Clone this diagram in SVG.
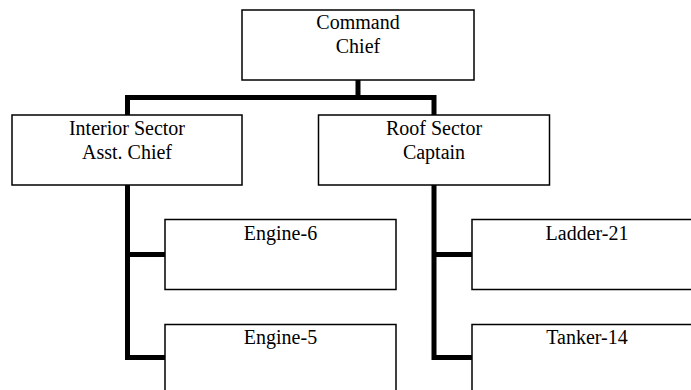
<svg xmlns="http://www.w3.org/2000/svg" width="691" height="390" viewBox="0 0 691 390">
<style>
.box{fill:#fff;stroke:#000;stroke-width:1.5}
.lbl{font-family:"Liberation Serif","Times New Roman",serif;font-size:20px;fill:#000;text-anchor:middle}
.conn{fill:none;stroke:#000;stroke-width:5;stroke-linecap:butt;stroke-linejoin:miter}
</style>
<rect width="691" height="390" fill="#fff"/>
<g id="connectors">
<path class="conn" d="M358,80 V97.5"/>
<path class="conn" d="M127.5,185 V97.5 H434 V185"/>
<path class="conn" d="M127.5,185 V357.5 H165"/>
<path class="conn" d="M127.5,254.5 H165"/>
<path class="conn" d="M434,185 V357.5 H472"/>
<path class="conn" d="M434,254.5 H472"/>
</g>
<g id="command">
<rect class="box" x="242" y="10" width="232" height="70"/>
<text class="lbl" x="358" y="29">Command</text>
<text class="lbl" x="358" y="53">Chief</text>
</g>
<g id="interior">
<rect class="box" x="12" y="115" width="230" height="70"/>
<text class="lbl" x="127" y="135">Interior Sector</text>
<text class="lbl" x="127" y="159">Asst. Chief</text>
</g>
<g id="roof">
<rect class="box" x="318.5" y="115" width="231" height="70"/>
<text class="lbl" x="434" y="135">Roof Sector</text>
<text class="lbl" x="434" y="159">Captain</text>
</g>
<g id="engine6">
<rect class="box" x="165" y="219.5" width="231" height="70"/>
<text class="lbl" x="280.5" y="240">Engine-6</text>
</g>
<g id="engine5">
<rect class="box" x="165" y="324.5" width="231" height="70"/>
<text class="lbl" x="280.5" y="344">Engine-5</text>
</g>
<g id="ladder21">
<rect class="box" x="472" y="219.5" width="231" height="70"/>
<text class="lbl" x="587" y="240">Ladder-21</text>
</g>
<g id="tanker14">
<rect class="box" x="472" y="324.5" width="231" height="70"/>
<text class="lbl" x="587" y="344">Tanker-14</text>
</g>
</svg>
